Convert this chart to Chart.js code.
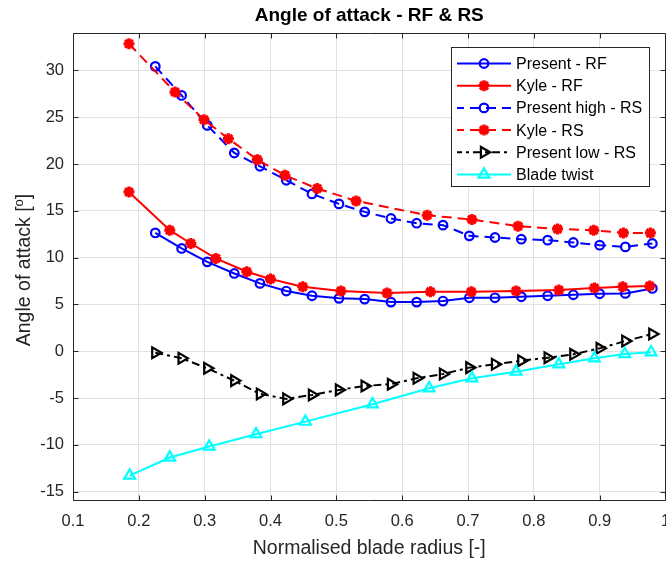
<!DOCTYPE html>
<html>
<head>
<meta charset="utf-8">
<script src="https://cdn.jsdelivr.net/npm/chart.js@4.4.1/dist/chart.umd.min.js"></script>
<style>
  html, body { margin: 0; padding: 0; background: #fff; overflow: hidden; width: 666px; height: 564px; }
  canvas { display: block; }
</style>
</head>
<body>
<canvas id="chart" width="676" height="564"></canvas>
<script>
const FONT = '"Liberation Sans", Arial, Helvetica, sans-serif';

// Axis ticks
const xTicks = [0.1, 0.2, 0.3, 0.4, 0.5, 0.6, 0.7, 0.8, 0.9, 1];
const yTicks = [-15, -10, -5, 0, 5, 10, 15, 20, 25, 30];

// Radial stations of the present method (r/R)
const presentX = [0.225, 0.265, 0.304, 0.345, 0.384, 0.424, 0.463, 0.504, 0.543, 0.583,
                  0.622, 0.662, 0.702, 0.741, 0.781, 0.821, 0.860, 0.900, 0.939, 0.980];
const presentRF = [12.64, 10.98, 9.55, 8.31, 7.25, 6.43, 5.93, 5.65, 5.57, 5.25,
                   5.25, 5.36, 5.71, 5.71, 5.82, 5.93, 6.03, 6.14, 6.18, 6.71];
const presentHighRS = [30.43, 27.33, 24.13, 21.18, 19.76, 18.27, 16.81, 15.74, 14.89, 14.18,
                       13.68, 13.47, 12.33, 12.15, 11.97, 11.87, 11.62, 11.33, 11.15, 11.51];
const presentLowRS = [-0.16, -0.75, -1.82, -3.14, -4.56, -5.09, -4.67, -4.13, -3.71, -3.52,
                      -2.89, -2.43, -1.75, -1.39, -1.01, -0.69, -0.33, 0.31, 1.09, 1.84];

// Kyle reference data
const kyleRFX = [0.185, 0.247, 0.279, 0.317, 0.364, 0.400, 0.449, 0.507, 0.577, 0.643,
                 0.705, 0.773, 0.838, 0.892, 0.935, 0.976];
const kyleRF = [17.02, 12.93, 11.51, 9.91, 8.49, 7.71, 6.89, 6.43, 6.21, 6.35,
                6.35, 6.43, 6.53, 6.75, 6.89, 6.96];
const kyleRSX = [0.185, 0.255, 0.299, 0.336, 0.380, 0.422, 0.471, 0.530, 0.638, 0.706,
                 0.776, 0.836, 0.891, 0.936, 0.977];
const kyleRS = [32.85, 27.69, 24.74, 22.71, 20.47, 18.80, 17.38, 16.06, 14.53, 14.07,
                13.36, 13.07, 12.93, 12.64, 12.64];

// Blade geometric twist
const twistX = [0.186, 0.247, 0.307, 0.378, 0.453, 0.555, 0.641, 0.706, 0.773, 0.838,
                0.892, 0.938, 0.978];
const twist = [-13.28, -11.35, -10.18, -8.86, -7.52, -5.66, -3.95, -2.89, -2.18, -1.39,
               -0.75, -0.29, -0.11];

const pts = (xs, ys) => xs.map((x, i) => ({ x: x, y: ys[i] }));

const DASH = [10, 6];
const DASHDOT = [8, 4, 3, 4];

function series(label, xs, ys, color, dash, style, radius, rotation, markerWidth) {
  return {
    label: label,
    data: pts(xs, ys),
    borderColor: color,
    backgroundColor: color,
    borderWidth: 2,
    borderDash: dash,
    tension: 0,
    fill: false,
    pointStyle: style,
    pointRadius: radius,
    pointRotation: rotation || 0,
    pointBorderColor: color,
    pointBackgroundColor: 'rgba(0,0,0,0)',
    pointBorderWidth: markerWidth
  };
}

const datasets = [
  series('Present - RF', presentX, presentRF, '#0000ff', [], 'circle', 4.3, 0, 2.2),
  series('Kyle - RF', kyleRFX, kyleRF, '#ff0000', [], 'star', 5.5, 0, 3.2),
  series('Present high - RS', presentX, presentHighRS, '#0000ff', DASH, 'circle', 4.3, 0, 2.2),
  series('Kyle - RS', kyleRSX, kyleRS, '#ff0000', DASH, 'star', 5.5, 0, 3.2),
  series('Present low - RS', presentX, presentLowRS, '#000000', DASHDOT, 'triangle', 6.2, 90, 2.2),
  series('Blade twist', twistX, twist, '#00ffff', [], 'triangle', 6.2, 0, 2.2)
];
// later series are painted over earlier ones
datasets.forEach((d, i) => { d.order = datasets.length - i; });

const frame = {
  id: 'frame',
  afterDatasetsDraw(chart) {
    const { ctx, chartArea: a, scales } = chart;
    ctx.save();
    ctx.strokeStyle = '#262626';
    ctx.lineWidth = 1;
    ctx.setLineDash([]);
    ctx.beginPath();
    const L = Math.round(a.left) + 0.5, R = Math.round(a.right) - 0.5;
    const T = Math.round(a.top) + 0.5, B = Math.round(a.bottom) - 0.5;
    ctx.rect(L, T, R - L, B - T);
    const tl = 5;
    scales.x.ticks.forEach(t => {
      const px = Math.round(scales.x.getPixelForValue(t.value)) + 0.5;
      ctx.moveTo(px, B); ctx.lineTo(px, B - tl);
      ctx.moveTo(px, T); ctx.lineTo(px, T + tl);
    });
    scales.y.ticks.forEach(t => {
      const py = Math.round(scales.y.getPixelForValue(t.value)) + 0.5;
      ctx.moveTo(L, py); ctx.lineTo(L + tl, py);
      ctx.moveTo(R, py); ctx.lineTo(R - tl, py);
    });
    ctx.stroke();
    ctx.restore();
  },
  afterDraw(chart) {
    const { ctx, chartArea: a } = chart;
    ctx.save();
    // title
    ctx.fillStyle = '#000';
    ctx.font = 'bold 19px ' + FONT;
    ctx.textAlign = 'center';
    ctx.textBaseline = 'middle';
    ctx.fillText('Angle of attack - RF & RS', (a.left + a.right) / 2, 16);

    // y axis label with superscript
    ctx.fillStyle = '#262626';
    const main = '19.5px ' + FONT, sup = '13px ' + FONT;
    const p1 = 'Angle of attack [', p2 = 'o', p3 = ']';
    ctx.font = main; const w1 = ctx.measureText(p1).width, w3 = ctx.measureText(p3).width;
    ctx.font = sup; const w2 = ctx.measureText(p2).width;
    const total = w1 + w2 + w3;
    ctx.translate(22.5, (a.top + a.bottom) / 2 + 3);
    ctx.rotate(-Math.PI / 2);
    ctx.textAlign = 'left';
    ctx.textBaseline = 'alphabetic';
    let x0 = -total / 2;
    const base = 7;
    ctx.font = main; ctx.fillText(p1, x0, base); x0 += w1;
    ctx.font = sup; ctx.fillText(p2, x0, base - 7); x0 += w2;
    ctx.font = main; ctx.fillText(p3, x0, base);
    ctx.restore();

    // legend
    ctx.save();
    const bx = 451, by = 47, bw = 199, bh = 140;
    ctx.fillStyle = '#fff';
    ctx.fillRect(bx, by, bw, bh);
    ctx.strokeStyle = '#262626';
    ctx.lineWidth = 1;
    ctx.strokeRect(bx + 0.5, by + 0.5, bw - 1, bh - 1);
    chart.data.datasets.forEach((d, i) => {
      const y = 63.5 + i * 22.2;
      ctx.strokeStyle = d.borderColor;
      ctx.lineWidth = d.borderWidth;
      ctx.setLineDash(d.borderDash || []);
      ctx.lineDashOffset = d.borderDash && d.borderDash.length ? 3 : 0;
      ctx.beginPath();
      ctx.moveTo(457, y); ctx.lineTo(511, y);
      ctx.stroke();
      ctx.setLineDash([]);
      ctx.lineDashOffset = 0;
      ctx.fillStyle = 'rgba(0,0,0,0)';
      ctx.lineWidth = d.pointBorderWidth;
      Chart.helpers.drawPoint(ctx, {
        pointStyle: d.pointStyle, radius: d.pointRadius,
        rotation: d.pointRotation, borderWidth: d.pointBorderWidth
      }, 484, y);
      ctx.fillStyle = '#000';
      ctx.font = '16px ' + FONT;
      ctx.textAlign = 'left';
      ctx.textBaseline = 'middle';
      ctx.fillText(d.label, 516, y + 1);
    });
    ctx.restore();
  }
};

new Chart(document.getElementById('chart'), {
  type: 'line',
  data: { datasets: datasets },
  options: {
    responsive: false,
    animation: false,
    devicePixelRatio: 1,
    layout: { padding: { top: 33, right: 10.5, left: 0, bottom: 0 } },
    plugins: { legend: { display: false }, tooltip: { enabled: false }, title: { display: false } },
    scales: {
      x: {
        type: 'linear',
        min: 0.1, max: 1,
        afterBuildTicks: s => { s.ticks = xTicks.map(v => ({ value: v })); },
        afterFit: s => { s.height = 63; s.paddingLeft = 0; s.paddingRight = 0; },
        grid: { color: '#e1e1e1', lineWidth: 1, drawTicks: false },
        border: { display: false },
        ticks: {
          callback: v => String(v),
          font: { family: FONT, size: 16.5 },
          color: '#262626', padding: 11, maxRotation: 0, autoSkip: false
        },
        title: {
          display: true, text: 'Normalised blade radius [-]',
          font: { family: FONT, size: 19.5 }, color: '#262626',
          padding: { top: 0, bottom: 4 }
        }
      },
      y: {
        type: 'linear',
        min: -16, max: 34,
        afterBuildTicks: s => { s.ticks = yTicks.map(v => ({ value: v })); },
        afterFit: s => { s.width = 73; },
        grid: { color: '#e1e1e1', lineWidth: 1, drawTicks: false },
        border: { display: false },
        ticks: {
          callback: v => String(v),
          font: { family: FONT, size: 16.5 },
          color: '#262626', padding: 9, autoSkip: false
        }
      }
    }
  },
  plugins: [frame]
});
</script>
</body>
</html>
